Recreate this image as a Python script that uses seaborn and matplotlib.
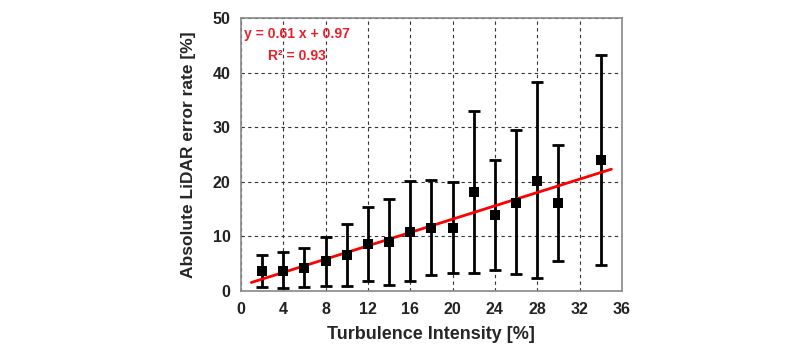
import matplotlib
matplotlib.use("Agg")
import matplotlib.pyplot as plt
import seaborn as sns
import numpy as np
import pandas as pd

# Data
turbulence = [2, 4, 6, 8, 10, 12, 14, 16, 18, 20, 22, 24, 26, 28, 30, 34]
error_mean = [3.7, 3.7, 4.3, 5.5, 6.6, 8.7, 8.9, 10.9, 11.6, 11.6, 18.2, 14.0, 16.2, 20.1, 16.2, 24.0]
error_upper = [6.7, 7.1, 7.9, 9.9, 12.2, 15.4, 16.9, 20.1, 20.4, 19.9, 33.0, 24.0, 29.4, 38.2, 26.7, 43.2]
error_lower = [0.7, 0.5, 0.8, 1.0, 1.0, 1.8, 1.1, 1.8, 2.9, 3.3, 3.3, 3.8, 3.2, 2.4, 5.6, 4.8]
fit_slope = 0.61
fit_intercept = 0.97
fit_x = [1.0, 35.0]
fit_r2 = 0.93
x_ticks = [0, 4, 8, 12, 16, 20, 24, 28, 32, 36]
y_ticks = [0, 10, 20, 30, 40, 50]

df = pd.DataFrame({"x": turbulence, "y": error_mean})
fit_df = pd.DataFrame({"x": fit_x, "y": [fit_slope * v + fit_intercept for v in fit_x]})

sns.set_theme(style="white")
plt.rcParams['font.family'] = ['Liberation Sans', 'DejaVu Sans']

fig = plt.figure(figsize=(8, 3.52), dpi=100)
ax = fig.add_axes([0.301, 0.173, 0.4765, 0.776])

yerr = np.array([np.array(error_mean) - np.array(error_lower),
                 np.array(error_upper) - np.array(error_mean)])
ax.errorbar(turbulence, error_mean, yerr=yerr, fmt='none', ecolor='black',
            elinewidth=2, capsize=4, capthick=2, zorder=3)
sns.lineplot(data=fit_df, x="x", y="y", color="#ff0000", linewidth=2, ax=ax, zorder=4)
sns.scatterplot(data=df, x="x", y="y", marker="s", color="black", s=45,
                edgecolor="black", linewidth=0, ax=ax, zorder=5)

ax.set_xlim(0, 36)
ax.set_ylim(0, 50)
ax.set_xticks(x_ticks)
ax.set_yticks(y_ticks)
ax.grid(True, linestyle=(0, (3, 3)), color="#333333", linewidth=0.8)
for s in ax.spines.values():
    s.set_color("#888888")
    s.set_linewidth(1.2)
ax.tick_params(axis='both', direction='inout', length=7, width=1, color="#666666",
               labelsize=11.5, pad=4)
for lab in ax.get_xticklabels() + ax.get_yticklabels():
    lab.set_fontweight('bold')
    lab.set_color('#222222')

ax.set_xlabel("Turbulence Intensity [%]", fontsize=13, fontweight='bold', labelpad=7)
ax.set_ylabel("Absolute LiDAR error rate [%]", fontsize=12.5, fontweight='bold', labelpad=12)

ax.text(0.3, 47.0, f"y = {fit_slope:.2f} x + {fit_intercept:.2f}", color="#e8202a",
        fontsize=10, fontweight='bold', va='center', ha='left')
ax.text(2.6, 43.0, f"R² = {fit_r2:.2f}", color="#e8202a",
        fontsize=10, fontweight='bold', va='center', ha='left')

fig.savefig("out.png", dpi=100)
